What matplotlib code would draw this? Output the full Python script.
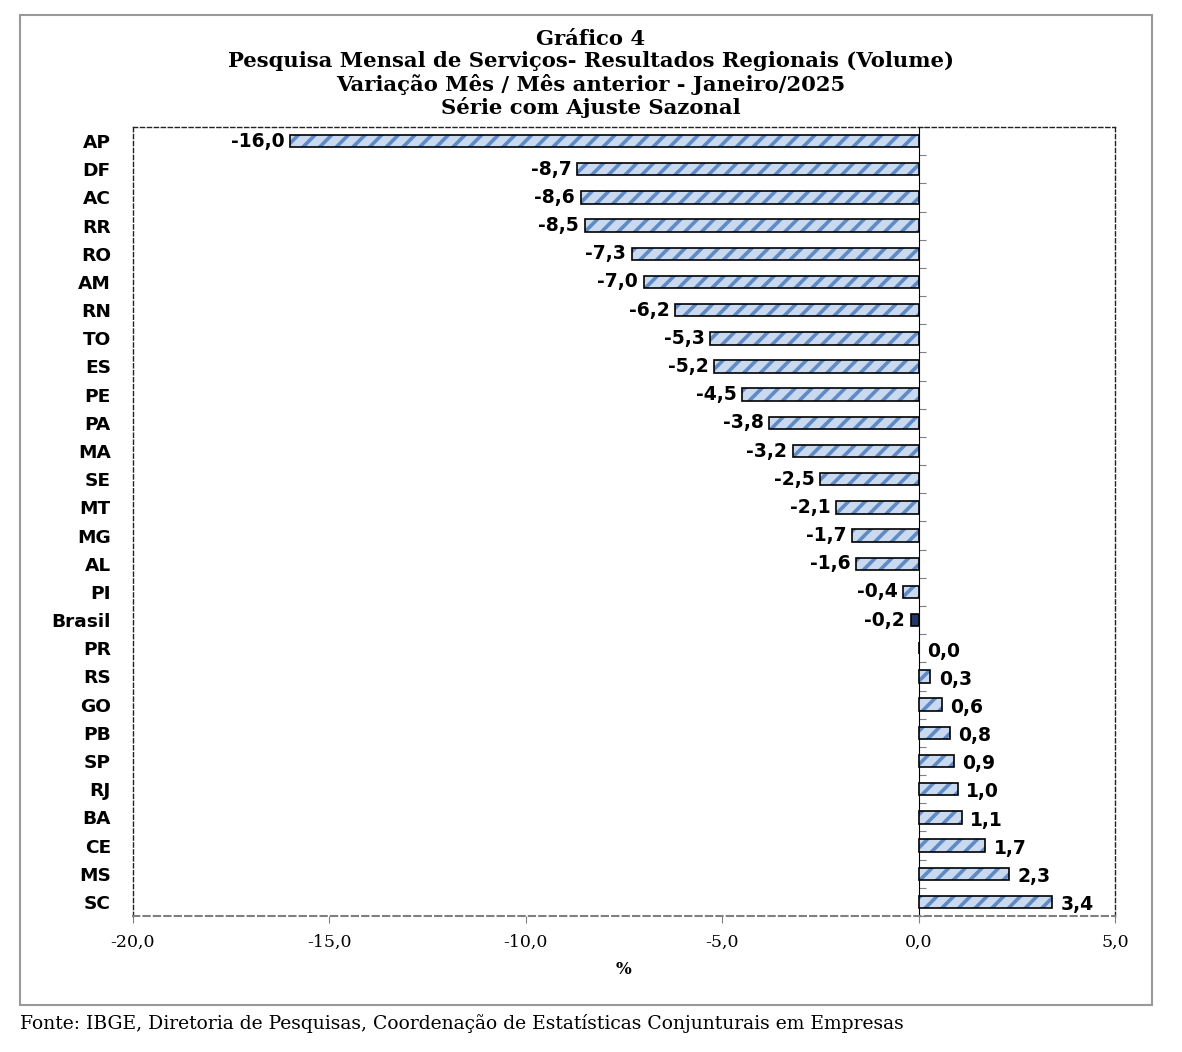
import matplotlib
matplotlib.use("Agg")
import matplotlib.pyplot as plt
from matplotlib.patches import Rectangle
import numpy as np

regioes = ["AP", "DF", "AC", "RR", "RO", "AM", "RN", "TO", "ES", "PE", "PA", "MA",
           "SE", "MT", "MG", "AL", "PI", "Brasil", "PR", "RS", "GO", "PB", "SP", "RJ",
           "BA", "CE", "MS", "SC"]
variacao = [-16.0, -8.7, -8.6, -8.5, -7.3, -7.0, -6.2, -5.3, -5.2, -4.5, -3.8, -3.2,
            -2.5, -2.1, -1.7, -1.6, -0.4, -0.2, 0.0, 0.3, 0.6, 0.8, 0.9, 1.0,
            1.1, 1.7, 2.3, 3.4]
xticks = [-20, -15, -10, -5, 0, 5]

titulo = ("Gráfico 4\nPesquisa Mensal de Serviços- Resultados Regionais (Volume)\n"
          "Variação Mês / Mês anterior - Janeiro/2025\nSérie com Ajuste Sazonal")
fonte = "Fonte: IBGE, Diretoria de Pesquisas, Coordenação de Estatísticas Conjunturais em Empresas"

plt.rcParams["hatch.linewidth"] = 2.6
SERIF = "DejaVu Serif"

fig = plt.figure(figsize=(11.82, 10.52), dpi=100)
ax = fig.add_axes([0.1125, 0.1293, 0.8308, 0.75])

y = np.arange(len(regioes))
fill = ["#1f3864" if r == "Brasil" else "#c9daf0" for r in regioes]
hatch = [None if r == "Brasil" else "//" for r in regioes]
for yi, v, fc, h in zip(y, variacao, fill, hatch):
    ax.barh(yi, v, height=0.44, color=fc, hatch=h, edgecolor="#5f8ac4", lw=0, zorder=2)
ax.barh(y, variacao, height=0.44, fill=False, edgecolor="black", lw=1.2, zorder=3)

for yi, v in zip(y, variacao):
    txt = f"{v:.1f}".replace(".", ",")
    if v < 0:
        ax.annotate(txt, (v, yi), xytext=(-4, 0), textcoords="offset points",
                    ha="right", va="center", fontsize=13.5, fontweight="bold")
    else:
        ax.annotate(txt, (v, yi), xytext=(6, -2), textcoords="offset points",
                    ha="left", va="center", fontsize=13.5, fontweight="bold")

ax.set_xlim(-20, 5)
ax.set_ylim(len(regioes) - 0.5, -0.5)
ax.set_yticks(y)
ax.set_yticklabels(regioes, fontsize=13.3, fontweight="bold")
ax.tick_params(axis="y", length=0, pad=16)
ax.set_xticks(xticks)
ax.set_xticklabels([f"{t:.1f}".replace(".", ",") for t in xticks], family=SERIF, fontsize=12.5)
ax.tick_params(axis="x", length=5, color="#808080", pad=8)
ax.set_xlabel("%", family=SERIF, fontsize=12, fontweight="bold", labelpad=7)

for s in ax.spines.values():
    s.set_linestyle((0, (3, 2)))
    s.set_linewidth(1.0)
    s.set_color("#222222")
ax.spines["bottom"].set_color("#808080")
ax.spines["bottom"].set_linewidth(1.5)

# category axis crossing at zero
sec = ax.secondary_yaxis(0.8)
sec.set_yticks(np.arange(len(regioes) + 1) - 0.5)
sec.set_yticklabels([])
sec.tick_params(length=5, color="#808080", direction="out")
sec.spines["left"].set_color("#808080")
sec.spines["left"].set_linewidth(1.5)

fig.text(0.5, 0.9725, titulo, ha="center", va="top", family=SERIF, fontsize=15.2,
         fontweight="bold", linespacing=1.14)
fig.text(0.017, 0.027, fonte, ha="left", va="center", family=SERIF, fontsize=13.5)
fig.patches.append(Rectangle((20 / 1182, 1 - 1005 / 1052), 1132 / 1182, 990 / 1052,
                             transform=fig.transFigure, fill=False,
                             edgecolor="#999999", lw=1.5))

fig.savefig("out.png", dpi=100)
